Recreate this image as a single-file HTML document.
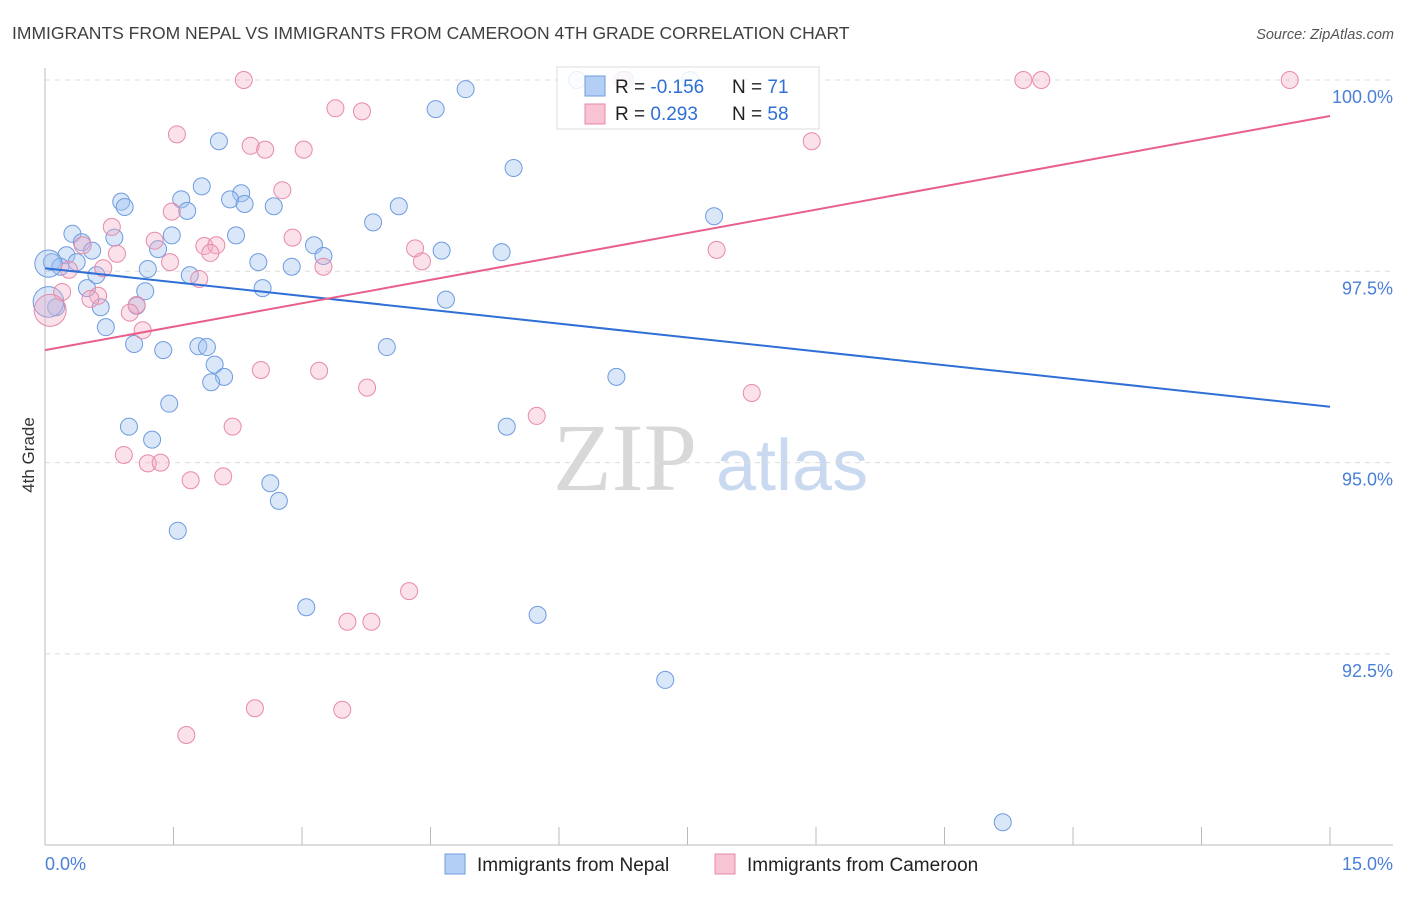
<!DOCTYPE html>
<html><head><meta charset="utf-8"><style>
body{margin:0;background:#fff;width:1406px;height:892px;overflow:hidden;font-family:"Liberation Sans",sans-serif}
</style></head><body>
<svg id="chart" width="1406" height="892" xmlns="http://www.w3.org/2000/svg" font-family="Liberation Sans, sans-serif">
<text x="12" y="39" font-size="17.5" fill="#404040">IMMIGRANTS FROM NEPAL VS IMMIGRANTS FROM CAMEROON 4TH GRADE CORRELATION CHART</text>
<text x="1394" y="39" font-size="14.5" fill="#555" text-anchor="end" font-style="italic">Source: ZipAtlas.com</text>
<text transform="translate(34,455) rotate(-90)" font-size="17" fill="#333" text-anchor="middle">4th Grade</text>
<g>
<text x="553" y="490" font-size="96" fill="#d8d8d8" font-family="Liberation Serif, serif">ZIP</text>
<text x="716" y="490" font-size="72" fill="#c9d9f0">atlas</text>
</g>
<g id="grid"></g><g id="axes"></g><g id="pts"></g><g id="lines"></g>
<g>
<rect x="557" y="67" width="262" height="62" fill="#fff" fill-opacity="0.85" stroke="#ddd"/>
<rect x="585" y="76" width="20" height="20" fill="#b4cff5" stroke="#6f9be0"/>
<rect x="585" y="104" width="20" height="20" fill="#f8c4d4" stroke="#e88aa8"/>
<text x="615" y="93" font-size="19" fill="#222">R = <tspan fill="#2f6fd6">-0.156</tspan></text>
<text x="732" y="93" font-size="19" fill="#222">N = <tspan fill="#2f6fd6"> 71</tspan></text>
<text x="615" y="120" font-size="19" fill="#222">R = <tspan fill="#2f6fd6"> 0.293</tspan></text>
<text x="732" y="120" font-size="19" fill="#222">N = <tspan fill="#2f6fd6">58</tspan></text>
</g>
<g>
<rect x="445" y="854" width="20" height="20" fill="#b4cff5" stroke="#6f9be0"/>
<text x="477" y="871" font-size="19" fill="#222">Immigrants from Nepal</text>
<rect x="715" y="854" width="20" height="20" fill="#f8c4d4" stroke="#e88aa8"/>
<text x="747" y="871" font-size="19" fill="#222">Immigrants from Cameroon</text>
</g>
</svg>
<script>
const yTicks=[100,97.5,95,92.5];
const yTickLabels=["100.0%","97.5%","95.0%","92.5%"];
const xTickLabels=["0.0%","15.0%"];
const nepalX=[6.21,6.77,7.53,4.91,4.56,2.03,5.47,1.83,1.59,2.29,2.16,2.33,0.89,0.93,1.66,2.67,4.13,7.81,3.83,0.32,2.23,1.48,0.81,0.43,3.14,1.32,0.25,0.55,4.63,5.33,3.25,2.49,2.88,0.08,0.18,0.37,1.20,1.69,0.60,2.54,0.49,1.17,4.68,0.65,1.07,0.13,0.71,1.04,1.38,1.79,1.89,3.99,1.98,2.09,1.94,6.67,1.45,0.98,1.25,5.39,2.63,2.73,1.55,3.05,5.75,7.24,11.18,0.04,0.04];
const nepalY=[100,100,100,99.88,99.62,99.20,98.85,98.61,98.44,98.52,98.44,98.38,98.41,98.34,98.29,98.35,98.35,98.22,98.14,97.99,97.97,97.97,97.94,97.88,97.84,97.79,97.71,97.77,97.77,97.75,97.70,97.62,97.56,97.62,97.56,97.62,97.53,97.45,97.45,97.28,97.28,97.24,97.13,97.03,97.05,97.03,96.77,96.55,96.47,96.52,96.51,96.51,96.28,96.12,96.05,96.12,95.77,95.47,95.30,95.47,94.73,94.50,94.11,93.11,93.01,92.16,90.30,97.6,97.1];
const nepalSize=[1,1,1,1,1,1,1,1,1,1,1,1,1,1,1,1,1,1,1,1,1,1,1,1,1,1,1,1,1,1,1,1,1,1,1,1,1,1,1,1,1,1,1,1,1,1,1,1,1,1,1,1,1,1,1,1,1,1,1,1,1,1,1,1,1,1,1,1.6,1.8];
const camX=[2.32,11.42,11.63,14.53,6.74,3.39,3.70,1.54,2.40,2.57,3.02,8.95,2.77,1.48,0.78,1.28,1.86,2.00,1.93,2.89,4.32,4.40,7.84,0.84,0.44,1.46,0.68,1.80,3.25,0.28,0.20,0.62,0.53,1.07,0.99,1.14,0.06,2.52,3.20,3.76,8.25,2.19,5.74,0.92,1.20,1.35,1.70,2.08,4.25,3.53,3.81,2.45,3.47,1.65];
const camY=[100,100,100,100,100,99.63,99.59,99.29,99.14,99.09,99.09,99.20,98.56,98.28,98.08,97.90,97.83,97.84,97.74,97.94,97.80,97.63,97.78,97.73,97.84,97.62,97.54,97.40,97.56,97.52,97.23,97.18,97.14,97.06,96.96,96.73,96.99,96.21,96.20,95.98,95.91,95.47,95.61,95.10,94.99,95.00,94.77,94.82,93.32,92.92,92.92,91.79,91.77,91.44];
const nepalLine=[97.54,95.73];
const camLine=[96.47,99.53];
const X0=45,X1=1330,YT=80,PXPER=76.52;
const sx=v=>X0+(v/15)*(X1-X0);
const sy=v=>YT+(100-v)*PXPER;
const NS="http://www.w3.org/2000/svg";
function mk(parent,tag,attrs){const e=document.createElementNS(NS,tag);for(const k in attrs)e.setAttribute(k,attrs[k]);document.getElementById(parent).appendChild(e);return e;}
yTicks.forEach((t,i)=>{
 const l=mk('grid','line',{x1:45,x2:1393,y1:sy(t),y2:sy(t),stroke:'#dcdcdc','stroke-dasharray':'5,5'});
 
 
 const tx=mk('grid','text',{x:1393,y:sy(t)+23,'font-size':18,fill:'#4a7fd8','text-anchor':'end'});
 tx.textContent=yTickLabels[i];
 
 
});
const ax=mk('axes','line',{x1:45,x2:45,y1:68,y2:845,stroke:'#bbb'});


const bx=mk('axes','line',{x1:45,x2:1393,y1:845,y2:845,stroke:'#bbb'});


for(let i=0;i<=10;i++){
 const t=mk('axes','line',{x1:sx(i*1.5),x2:sx(i*1.5),y1:827,y2:845,stroke:'#bbb'});
 
 
}
[[0,'start',45],[15,'end',1393]].forEach((d,i)=>{
 const t=mk('axes','text',{x:d[2],y:870,'font-size':18,fill:'#4a7fd8','text-anchor':d[1]});
 t.textContent=xTickLabels[i];
 
 
});
nepalX.forEach((x,i)=>{
 const c=mk('pts','circle',{cx:sx(x),cy:sy(nepalY[i]),r:8.5*nepalSize[i],fill:'rgba(160,195,240,0.4)',stroke:'#6f9be0','stroke-width':1});
 
 
});
camX.forEach((x,i)=>{
 const c=mk('pts','circle',{cx:sx(x),cy:sy(camY[i]),r:i==36?16:8.5,fill:'rgba(244,170,195,0.35)',stroke:'#e88aa8','stroke-width':1});
 
 
});
const l1=mk('lines','line',{x1:sx(0),y1:sy(nepalLine[0]),x2:sx(15),y2:sy(nepalLine[1]),stroke:'#2f6fd6','stroke-width':2});


const l2=mk('lines','line',{x1:sx(0),y1:sy(camLine[0]),x2:sx(15),y2:sy(camLine[1]),stroke:'#e8608a','stroke-width':2});


</script>
</body></html>
